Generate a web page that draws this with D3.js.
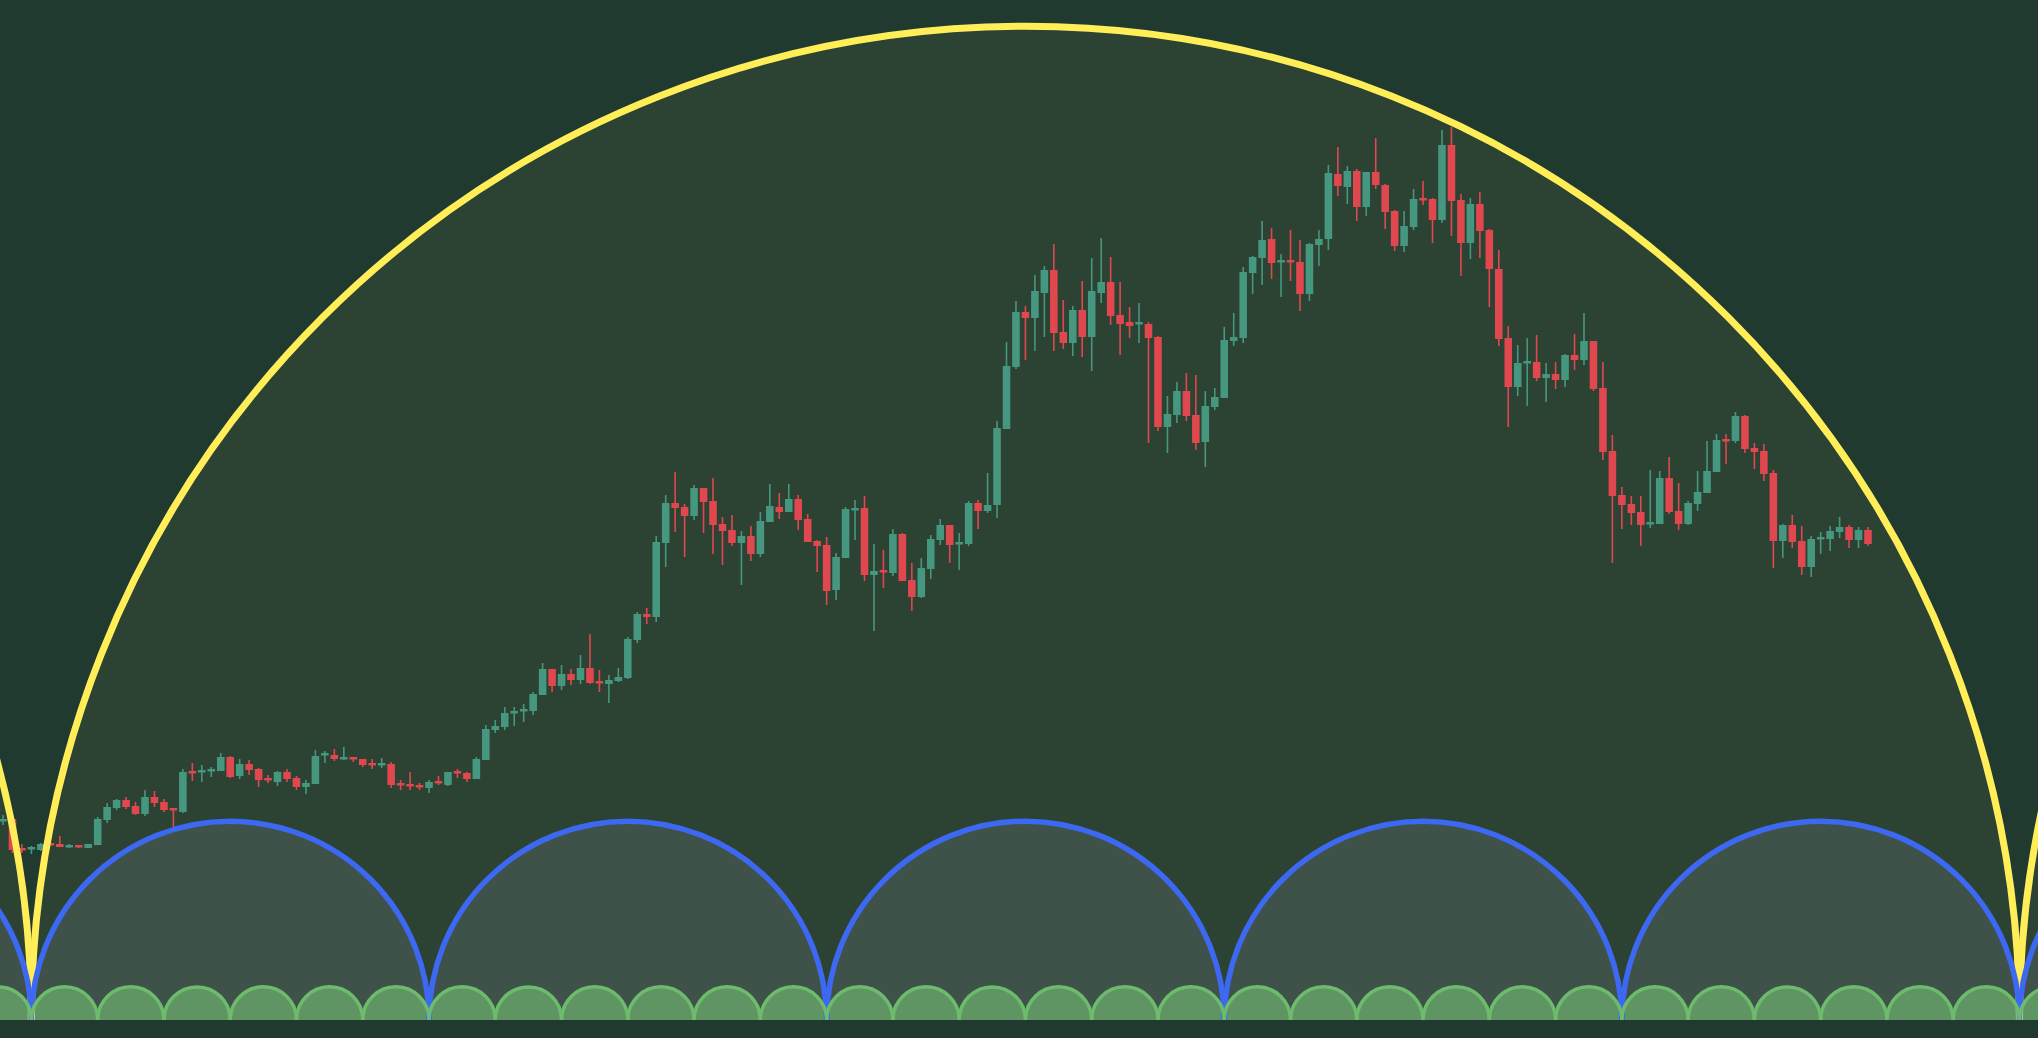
<html>
<head>
<script src="https://cdnjs.cloudflare.com/ajax/libs/d3/7.8.5/d3.min.js"></script>
<style>
body { margin: 0; background: #203a30; overflow: hidden; }
</style>
</head>
<body>
<svg id="chart" width="2038" height="1038"></svg>
<script>
// candles as [open, high, low, close]
var candles = [
[180,185,175,181],[181,182,147,150],[152,156,147,151],[152,154,146,153],[150,157,149,156],
[157,158,154,155],[156,164,153,153],[154,156,152,155],[155,155,152,153],[152,156,152,156],
[155,183,155,181],[180,197,177,193],[192,201,190,200],[200,203,191,193],[194,198,185,186],
[186,210,184,203],[203,209,193,197],[198,201,188,190],[192,192,173,191],[188,231,187,228],
[229,237,219,227],[228,235,218,230],[230,233,223,231],[229,247,229,243],[243,244,222,223],
[224,241,221,236],[236,240,225,230],[231,232,213,220],[222,225,217,220],[218,229,214,228],
[228,231,218,221],[222,224,210,213],[213,220,206,217],[216,250,216,244],[246,249,237,247],
[245,251,239,241],[242,253,240,243],[243,243,238,242],[241,241,233,235],[237,241,231,236],
[236,242,232,237],[236,238,212,215],[217,220,210,215],[216,228,210,215],[215,217,210,214],
[212,220,207,218],[219,224,215,217],[215,228,214,228],[229,231,222,228],[227,228,218,221],
[221,243,221,241],[240,275,240,271],[270,280,267,274],[273,293,270,287],[287,293,274,289],
[290,296,278,291],[289,308,285,306],[305,337,305,331],[331,331,308,314],[314,335,310,326],
[326,331,315,320],[320,345,316,332],[332,366,316,317],[319,330,308,318],[316,325,297,320],
[319,332,318,323],[322,363,321,361],[360,388,357,386],[386,392,376,383],[383,464,378,458],
[457,505,433,497],[497,528,468,492],[493,496,443,484],[484,515,480,512],[512,512,467,498],
[499,522,446,475],[476,483,435,469],[470,485,454,457],[457,469,415,464],[464,474,439,446],
[446,488,443,479],[478,516,478,494],[493,507,481,488],[488,516,488,501],[501,505,470,480],
[481,486,458,458],[459,460,428,454],[455,463,395,409],[410,447,400,443],[442,493,442,491],
[491,500,460,492],[492,504,419,425],[425,456,369,429],[430,450,412,428],[427,471,424,466],
[466,467,419,419],[420,437,389,403],[403,442,402,432],[431,465,421,461],[460,481,455,475],
[475,475,437,455],[457,467,430,458],[456,499,454,497],[497,500,471,489],[489,527,487,495],
[495,579,482,572],[571,658,571,634],[633,699,631,688],[688,694,640,682],[682,725,649,709],
[707,734,663,730],[730,756,649,667],[668,700,651,657],[657,694,644,690],[690,719,643,663],
[663,742,629,709],[707,762,697,718],[718,743,675,684],[685,718,645,676],[678,693,662,674],
[676,697,657,678],[676,678,557,662],[663,664,569,573],[573,604,547,586],[585,618,577,609],
[609,627,579,584],[585,625,550,557],[558,609,533,594],[593,612,590,603],[602,673,602,660],
[659,687,654,663],[662,733,657,728],[727,744,706,743],[742,779,715,760],[761,772,721,737],
[738,746,703,740],[740,770,719,738],[738,760,689,706],[706,757,699,756],[755,770,734,761],
[761,835,750,827],[826,853,804,814],[813,834,796,829],[829,831,779,793],[793,828,784,828],
[828,862,811,815],[815,816,771,788],[789,790,749,754],[754,789,748,774],[773,811,770,801],
[802,819,795,800],[801,802,757,780],[780,870,777,855],[855,873,764,799],[800,806,724,757],
[757,802,741,796],[796,808,742,769],[770,771,693,731],[731,750,654,661],[662,674,573,613],
[613,655,604,637],[638,662,594,639],[638,665,619,622],[622,637,598,626],[626,638,611,620],
[620,646,613,645],[645,666,630,640],[640,687,635,659],[659,659,609,611],[612,638,540,548],
[549,565,437,504],[505,513,471,495],[496,504,475,487],[488,504,454,475],[477,530,472,478],
[476,529,476,522],[522,543,486,488],[489,517,470,476],[476,499,475,497],[496,529,489,508],
[507,559,507,529],[528,566,528,560],[561,566,536,559],[559,588,557,584],[584,585,547,551],
[552,557,531,548],[549,556,519,526],[527,530,432,459],[459,476,442,475],[475,485,452,458],
[459,474,425,433],[433,464,423,461],[462,468,446,463],[461,474,449,469],[468,483,462,473],
[473,475,452,460],[460,473,452,470],[470,473,454,456]
];

// time cycles: length in bars, anchored at bar 3
var cycleStart = 3;
var cycleLengths = [210, 42, 7];
var cycleStroke = ['#ffee58', '#3d68f2', '#6dbb6c'];
var cycleFill = ['#2c4233', '#3e5249', '#5f9562'];
var cycleWidth = [7, 5.5, 3.5];

var W = 2038, baseY = 1020;
var svg = d3.select('#chart');

var x = d3.scaleLinear().domain([0, candles.length - 1]).range([3, 1868]);
var y = d3.scaleLinear().domain([0, 1000]).range([1000, 0]);
var step = x(1) - x(0);

svg.append('rect').attr('width', W).attr('height', 1038).attr('fill', '#203a30');

function arcs(i) {
    var len = cycleLengths[i], out = [];
    for (var s = cycleStart - len; x(s) < W; s += len) {
        out.push(s);
    }
    var r = (x(len) - x(0)) / 2;
    return out.map(function (s) {
        var x0 = x(s), x1 = x(s + len);
        return 'M' + x0 + ',' + baseY + ' A' + r + ',' + r + ' 0 0 1 ' + x1 + ',' + baseY + ' Z';
    });
}

var fills = svg.append('g');
cycleLengths.forEach(function (len, i) {
    fills.append('g').selectAll('path').data(arcs(i)).enter().append('path')
        .attr('d', function (d) { return d; })
        .attr('fill', cycleFill[i]);
});

var candleG = svg.append('g');
var c = candleG.selectAll('g').data(candles).enter().append('g')
    .attr('fill', function (d) { return d[3] >= d[0] ? '#46977f' : '#e0474f'; })
    .attr('stroke', function (d) { return d[3] >= d[0] ? '#46977f' : '#e0474f'; });
c.append('line')
    .attr('x1', function (d, i) { return x(i); })
    .attr('x2', function (d, i) { return x(i); })
    .attr('y1', function (d) { return y(d[1]); })
    .attr('y2', function (d) { return y(d[2]); })
    .attr('stroke-width', 1.6);
c.append('rect')
    .attr('x', function (d, i) { return x(i) - step * 0.4; })
    .attr('width', step * 0.8)
    .attr('y', function (d) { return y(Math.max(d[0], d[3])); })
    .attr('height', function (d) { return Math.max(2.5, Math.abs(y(d[0]) - y(d[3]))); })
    .attr('stroke', 'none');

cycleLengths.forEach(function (len, i) {
    svg.append('g').selectAll('path').data(arcs(i)).enter().append('path')
        .attr('d', function (d) { return d.replace(' Z', ''); })
        .attr('fill', 'none')
        .attr('stroke', cycleStroke[i])
        .attr('stroke-width', cycleWidth[i]);
});

svg.append('rect').attr('y', baseY).attr('width', W).attr('height', 1038 - baseY).attr('fill', '#203a30');
</script>
</body>
</html>
